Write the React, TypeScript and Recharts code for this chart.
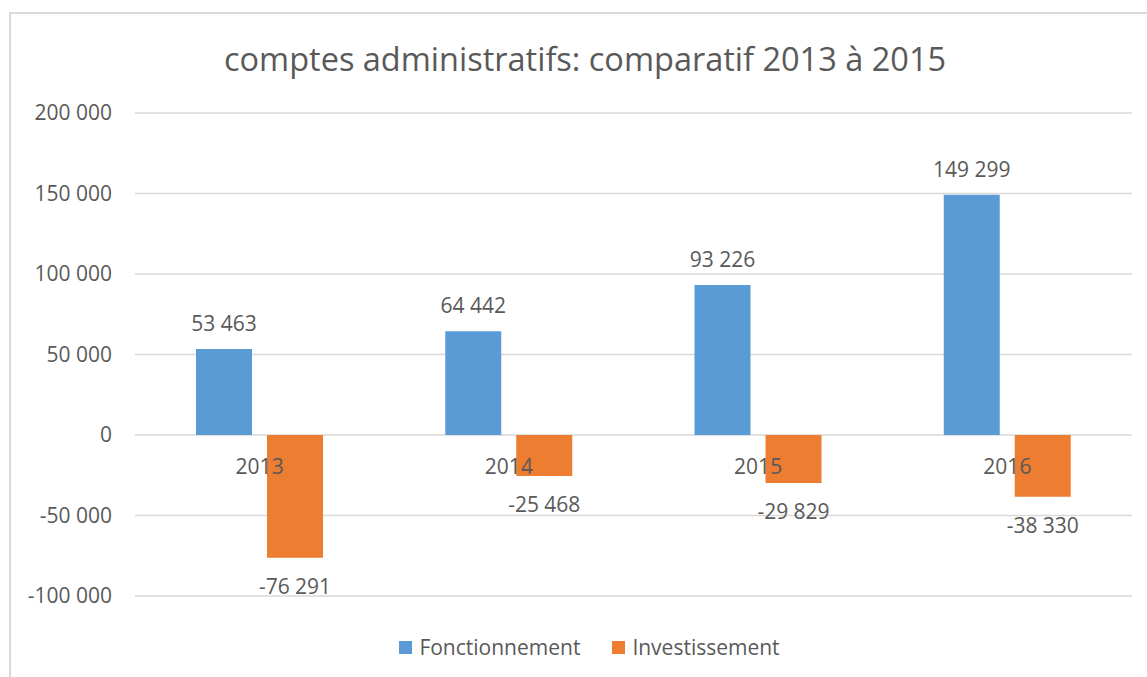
import React from "react";
import { BarChart, Bar, XAxis, YAxis, CartesianGrid, Legend, LabelList } from "recharts";

const years = ["2013", "2014", "2015", "2016"];
const fonctionnement = [53463, 64442, 93226, 149299];
const investissement = [-76291, -25468, -29829, -38330];
const yTicks = [-100000, -50000, 0, 50000, 100000, 150000, 200000];

const data = years.map((year, i) => ({
  year,
  fonctionnement: fonctionnement[i],
  investissement: investissement[i],
}));

const FONT = "'Open Sans', sans-serif";
const TEXT = "#595959";
const BLUE = "#5b9bd5";
const ORANGE = "#ed7d31";

const W = 1147;
const H = 677;
const TOP = 113;
const BOTTOM_PLOT = 596;
const PLOT_H = BOTTOM_PLOT - TOP;
// y of zero line inside the plot
const ZERO_Y = TOP + (PLOT_H * yTicks[yTicks.length - 1]) / (yTicks[yTicks.length - 1] - yTicks[0]);

function fmt(v: number) {
  const s = Math.abs(Math.round(v))
    .toString()
    .replace(/\B(?=(\d{3})+(?!\d))/g, " ");
  return v < 0 ? "-" + s : s;
}

const CategoryTick = (props: any) => {
  const { x, payload } = props;
  return (
    <text
      x={x}
      y={ZERO_Y + 31}
      textAnchor="middle"
      dominantBaseline="central"
      fill={TEXT}
      fontSize={21}
      fontFamily={FONT}
    >
      {payload.value}
    </text>
  );
};

const TopLabel = (props: any) => {
  const { x, y, width, height, value } = props;
  const top = Math.min(y, y + height);
  return (
    <text
      x={x + width / 2}
      y={top - 26}
      textAnchor="middle"
      dominantBaseline="central"
      fill={TEXT}
      fontSize={21}
      fontFamily={FONT}
    >
      {fmt(value)}
    </text>
  );
};

const BottomLabel = (props: any) => {
  const { x, y, width, height, value } = props;
  const bottom = Math.max(y, y + height);
  return (
    <text
      x={x + width / 2}
      y={bottom + 28}
      textAnchor="middle"
      dominantBaseline="central"
      fill={TEXT}
      fontSize={21}
      fontFamily={FONT}
    >
      {fmt(value)}
    </text>
  );
};

const LegendContent = () => (
  <div
    style={{
      display: "flex",
      justifyContent: "center",
      alignItems: "center",
      paddingLeft: 47,
      height: 40,
      fontFamily: FONT,
      fontSize: 21,
      color: TEXT,
    }}
  >
    <span style={{ width: 13, height: 13, background: BLUE, display: "inline-block", marginRight: 7 }} />
    <span style={{ marginRight: 32 }}>Fonctionnement</span>
    <span style={{ width: 13, height: 13, background: ORANGE, display: "inline-block", marginRight: 7 }} />
    <span>Investissement</span>
  </div>
);

export default function App() {
  return (
    <div style={{ position: "absolute", left: 0, top: 0, width: W, height: H, overflow: "hidden", background: "#fff" }}>
      <div
        style={{
          position: "absolute",
          left: 9,
          top: 12,
          width: 1300,
          height: 800,
          border: "2px solid #d9d9d9",
        }}
      />
      <div
        style={{
          position: "absolute",
          left: 0,
          top: 36,
          width: 1170,
          textAlign: "center",
          fontFamily: FONT,
          fontSize: 32.5,
          color: TEXT,
          lineHeight: "46px",
        }}
      >
        comptes administratifs: comparatif 2013 à 2015
      </div>
      <div style={{ position: "absolute", left: 0, top: 0 }}>
        <BarChart
          width={W}
          height={H}
          data={data}
          margin={{ top: TOP, right: 15, left: 0, bottom: 10 }}
          barSize={56}
          barGap={15}
        >
          <CartesianGrid vertical={false} stroke="#d9d9d9" strokeWidth={1.5} />
          <XAxis
            dataKey="year"
            axisLine={false}
            tickLine={false}
            height={31}
            tick={<CategoryTick />}
          />
          <YAxis
            width={135}
            domain={[yTicks[0], yTicks[yTicks.length - 1]]}
            ticks={yTicks}
            axisLine={false}
            tickLine={false}
            tickSize={0}
            tickMargin={23}
            tickFormatter={fmt}
            tick={{ fill: TEXT, fontSize: 21, fontFamily: FONT }}
          />
          <Legend verticalAlign="bottom" height={40} content={<LegendContent />} />
          <Bar dataKey="fonctionnement" name="Fonctionnement" fill={BLUE} isAnimationActive={false}>
            <LabelList dataKey="fonctionnement" content={<TopLabel />} />
          </Bar>
          <Bar dataKey="investissement" name="Investissement" fill={ORANGE} isAnimationActive={false}>
            <LabelList dataKey="investissement" content={<BottomLabel />} />
          </Bar>
        </BarChart>
      </div>
    </div>
  );
}
